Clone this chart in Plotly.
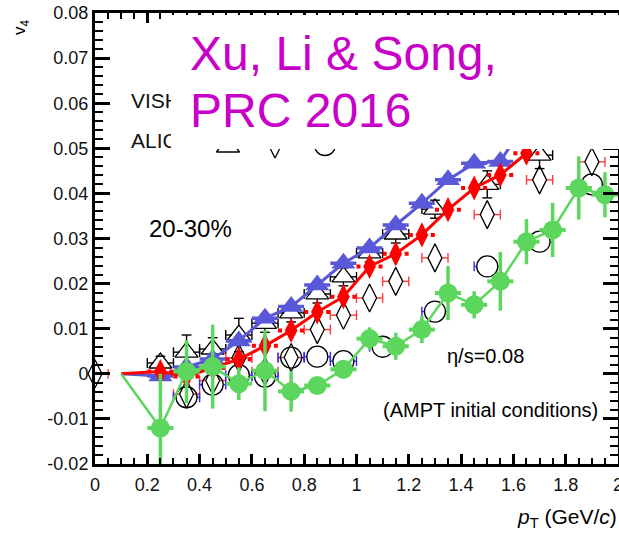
import plotly.graph_objects as go

# ---------------- data ----------------
pt_blue = [0.10, 0.25, 0.35, 0.45, 0.55, 0.65, 0.75, 0.85, 0.95, 1.05, 1.15, 1.25, 1.35, 1.45, 1.55, 1.65]
v4_blue = [0.0, -0.0005, 0.0015, 0.0033, 0.0073, 0.0123, 0.0149, 0.0197, 0.0245, 0.0279, 0.0330,
           0.0378, 0.0430, 0.0467, 0.0471, 0.0560]

pt_red = [0.10, 0.25, 0.35, 0.45, 0.55, 0.65, 0.75, 0.85, 0.95, 1.05, 1.15, 1.25, 1.35, 1.45, 1.55, 1.65]
v4_red = [0.0, 0.0005, -0.0006, 0.0013, 0.0032, 0.0062, 0.0096, 0.0137, 0.0171, 0.0238, 0.0266,
          0.0308, 0.0364, 0.0412, 0.0441, 0.0489]

pt_green = [0.10, 0.25, 0.35, 0.45, 0.55, 0.65, 0.75, 0.85, 0.95, 1.05, 1.15, 1.25, 1.35, 1.45,
            1.55, 1.65, 1.75, 1.85, 1.95]
v4_green = [0.0, -0.0120, 0.0005, 0.0016, -0.0022, 0.0007, -0.0039, -0.0026, 0.0010, 0.0078, 0.0061,
            0.0098, 0.0179, 0.0153, 0.0205, 0.0293, 0.0319, 0.0412, 0.0397]
err_green = [0.0, 0.0120, 0.0070, 0.0093, 0.0036, 0.0090, 0.0045, 0.0015, 0.0020, 0.0025, 0.0030,
             0.0030, 0.0060, 0.0030, 0.0065, 0.0050, 0.0060, 0.0070, 0.0050]

# ALICE data (open markers)
pt_tri = [0.25, 0.35, 0.45, 0.55, 0.65, 0.75, 0.85, 0.95, 1.05, 1.15, 1.3, 1.5, 1.7, 1.9]
v4_tri = [0.0024, 0.0048, 0.0055, 0.0086, 0.0112, 0.0135, 0.0177, 0.0215, 0.0268, 0.0310, 0.0365,
          0.0420, 0.0485, 0.0550]
err_tri = [0.0015, 0.0038, 0.0025, 0.0037, 0.0020, 0.0020, 0.0020, 0.0020, 0.0020, 0.0020, 0.0020,
           0.0030, 0.0030, 0.0030]

pt_dia = [0.0, 0.35, 0.45, 0.55, 0.65, 0.75, 0.85, 0.95, 1.05, 1.15, 1.3, 1.5, 1.7, 1.9]
v4_dia = [0.0, -0.0045, -0.0015, 0.0035, 0.0005, 0.0036, 0.0098, 0.0130, 0.0168, 0.0205, 0.0257,
          0.0353, 0.0430, 0.0470]

pt_cir = [0.35, 0.45, 0.55, 0.65, 0.75, 0.85, 0.95, 1.1, 1.3, 1.5, 1.7, 1.9]
v4_cir = [-0.0052, -0.0024, -0.0003, -0.0006, 0.0036, 0.0038, 0.0028, 0.0060, 0.0138, 0.0238,
          0.0293, 0.0420]

x_tickvals = [0, 0.2, 0.4, 0.6, 0.8, 1.0, 1.2, 1.4, 1.6, 1.8, 2.0]
x_ticktext = ["0", "0.2", "0.4", "0.6", "0.8", "1", "1.2", "1.4", "1.6", "1.8", "2"]
y_tickvals = [-0.02, -0.01, 0.0, 0.01, 0.02, 0.03, 0.04, 0.05, 0.06, 0.07, 0.08]
y_ticktext = ["-0.02", "-0.01", "0", "0.01", "0.02", "0.03", "0.04", "0.05", "0.06", "0.07", "0.08"]

# ---------------- style ----------------
BLUE = "#5858d8"
RED = "#ff0000"
GREEN = "#5cd65c"
MAGENTA = "#c800c8"
ALICE_RED = "#ff3a3a"
ALICE_BLUE = "#2a2aff"
HALF_BIN = 0.05
FONT = "Liberation Sans, Arial, sans-serif"

W, H = 619, 536
L, R, T, B = 95, 1, 13, 72
XR = [0.0, 2.0]
YR = [-0.02, 0.08]
PW, PH = W - L - R, H - T - B
XPX = (XR[1] - XR[0]) / PW   # data units per pixel (x)
YPX = (YR[1] - YR[0]) / PH   # data units per pixel (y)


def px2paper(xp, yp):
    return (xp - L) / PW, (H - B - yp) / PH


def px2data(xp, yp):
    fx, fy = px2paper(xp, yp)
    return XR[0] + fx * (XR[1] - XR[0]), YR[0] + fy * (YR[1] - YR[0])


def hbars(xs, ys, half):
    bx, by = [], []
    for x, y in zip(xs, ys):
        bx += [x - half, x + half, None]
        by += [y, y, None]
    return bx, by


def xbars_gap(xs, ys, half, gap):
    bx, by = [], []
    for x, y in zip(xs, ys):
        bx += [x - half, x - gap, None, x + gap, x + half, None]
        by += [y, y, None, y, y, None]
    return bx, by


def ybars_gap(xs, ys, errs, gap_up, gap_dn):
    bx, by = [], []
    for x, y, e in zip(xs, ys, errs):
        if e > gap_up:
            bx += [x, x, None]
            by += [y + gap_up, y + e, None]
        if e > gap_dn:
            bx += [x, x, None]
            by += [y - gap_dn, y - e, None]
    return bx, by


fig = go.Figure()


def alice(xs, ys, symbol, size, bar_color, gap_px, yerr=None, gap_up_px=0, gap_dn_px=0):
    # horizontal bars drawn outside the marker, with end caps
    bx, by = xbars_gap(xs, ys, HALF_BIN, gap_px * XPX)
    fig.add_trace(go.Scatter(x=bx, y=by, mode="lines", line=dict(color=bar_color, width=1.4),
                             showlegend=False, hoverinfo="skip"))
    cx = [x - HALF_BIN for x in xs] + [x + HALF_BIN for x in xs]
    cy = list(ys) + list(ys)
    fig.add_trace(go.Scatter(x=cx, y=cy, mode="markers",
                             marker=dict(symbol="line-ns", size=7, line=dict(color=bar_color, width=1.4)),
                             showlegend=False, hoverinfo="skip"))
    if yerr is not None:
        vx, vy = ybars_gap(xs, ys, yerr, gap_up_px * YPX, gap_dn_px * YPX)
        fig.add_trace(go.Scatter(x=vx, y=vy, mode="lines", line=dict(color="black", width=1.4),
                                 showlegend=False, hoverinfo="skip"))
        tx = list(xs) + list(xs)
        ty = [y + e for y, e in zip(ys, yerr)] + [y - e for y, e in zip(ys, yerr)]
        fig.add_trace(go.Scatter(x=tx, y=ty, mode="markers",
                                 marker=dict(symbol="line-ew", size=7, line=dict(color="black", width=1.4)),
                                 showlegend=False, hoverinfo="skip"))
    fig.add_trace(go.Scatter(x=xs, y=ys, mode="markers", cliponaxis=False,
                             marker=dict(symbol=symbol, size=size, color="black",
                                         line=dict(width=1.3, color="black")),
                             showlegend=False))


alice(pt_tri, v4_tri, "triangle-up-open", 20, "black", 7, yerr=err_tri, gap_up_px=10, gap_dn_px=5)
alice(pt_dia, v4_dia, "diamond-tall-open", 20, ALICE_RED, 7)
alice(pt_cir, v4_cir, "circle-open", 21, ALICE_BLUE, 10.5)

# partially hidden legend (covered by the white label box)
lx1, ly1 = px2data(228, 147)
lx2, ly2 = px2data(275, 144)
lx3, ly3 = px2data(325, 145)
for lx, ly, sym, sz in [(lx1, ly1, "triangle-up-open", 20), (lx2, ly2, "diamond-tall-open", 20),
                        (lx3, ly3, "circle-open", 21)]:
    fig.add_trace(go.Scatter(x=[lx], y=[ly], mode="markers", cliponaxis=False,
                             marker=dict(symbol=sym, size=sz, color="black", line=dict(width=1.3)),
                             showlegend=False))
tx, ty1 = px2data(131, 103)
_, ty2 = px2data(131, 143)
fig.add_trace(go.Scatter(x=[tx, tx], y=[ty1, ty2], mode="text", text=["VISH", "ALICE"],
                         textposition="middle right", cliponaxis=False,
                         textfont=dict(family=FONT, size=21, color="#111111"), showlegend=False))

# blue model
fig.add_trace(go.Scatter(x=pt_blue, y=v4_blue, mode="lines", line=dict(color=BLUE, width=3),
                         showlegend=False))
bx, by = hbars(pt_blue[1:], v4_blue[1:], HALF_BIN)
fig.add_trace(go.Scatter(x=bx, y=by, mode="lines", line=dict(color=BLUE, width=3.5, dash="9px,8px,9px"),
                         showlegend=False))
fig.add_trace(go.Scatter(x=pt_blue[1:], y=v4_blue[1:], mode="markers",
                         marker=dict(symbol="triangle-up", size=21, color=BLUE), showlegend=False))

# red model
fig.add_trace(go.Scatter(x=pt_red, y=v4_red, mode="lines", line=dict(color=RED, width=3),
                         showlegend=False))
rx, ry = hbars(pt_red[1:], v4_red[1:], HALF_BIN)
fig.add_trace(go.Scatter(x=rx, y=ry, mode="lines", line=dict(color=RED, width=4, dash="4px,18px,4px"),
                         showlegend=False))
fig.add_trace(go.Scatter(x=pt_red[1:], y=v4_red[1:], mode="markers",
                         marker=dict(symbol="diamond-tall", size=18, color=RED), showlegend=False))

# green model
fig.add_trace(go.Scatter(x=pt_green, y=v4_green, mode="lines", line=dict(color=GREEN, width=2.5),
                         showlegend=False))
fig.add_trace(go.Scatter(
    x=pt_green[1:], y=v4_green[1:], mode="markers",
    marker=dict(symbol="circle", size=19, color=GREEN),
    error_x=dict(type="constant", value=HALF_BIN, color=GREEN, thickness=4, width=0),
    error_y=dict(type="data", array=err_green[1:], color=GREEN, thickness=3.5, width=0),
    showlegend=False))

# white box covering the upper part
bx0, by0 = px2paper(171, 149)
_, by1 = px2paper(171, 15)
fig.add_shape(type="rect", xref="paper", yref="paper", x0=bx0, x1=1.2, y0=by0, y1=by1,
              fillcolor="white", line=dict(width=0), layer="above")


def ann(text, xp, yp, size, family=FONT, color="black", xanchor="center", yanchor="middle", angle=0):
    fx, fy = px2paper(xp, yp)
    fig.add_annotation(text=text, x=fx, y=fy, xref="paper", yref="paper", showarrow=False,
                       xanchor=xanchor, yanchor=yanchor, textangle=angle,
                       font=dict(family=family, size=size, color=color))


ann("Xu, Li &amp; Song,", 188, 53, 48, color=MAGENTA, xanchor="left")
ann("PRC 2016", 188, 110, 48, color=MAGENTA, xanchor="left")
ann("20-30%", 190, 228, 24)
ann("η/s=0.08", 485, 356, 20)
ann("(AMPT initial conditions)", 490, 410, 20)
ann("<i>p</i><sub>T</sub> (GeV/<i>c</i>)", 619, 518, 21, xanchor="right")
ann("v<sub>4</sub>", 21, 27, 17, angle=-90)

axis_common = dict(showline=True, linewidth=3, linecolor="black", mirror="ticks",
                   ticks="inside", tickcolor="black", tickwidth=2.5, showgrid=False, zeroline=False,
                   tickfont=dict(family=FONT, size=18, color="#111111"), tickmode="array",
                   ticklabeloverflow="allow")

fig.update_xaxes(range=XR, tickvals=x_tickvals, ticktext=x_ticktext, ticklen=10, ticklabelstandoff=2,
                 minor=dict(tickmode="linear", tick0=0, dtick=0.05, ticklen=6, tickwidth=2,
                            ticks="inside", tickcolor="black", showgrid=False),
                 **axis_common)
fig.update_yaxes(range=YR, tickvals=y_tickvals, ticktext=y_ticktext, ticklen=15,
                 minor=dict(tickmode="linear", tick0=0, dtick=0.002, ticklen=8, tickwidth=2,
                            ticks="inside", tickcolor="black", showgrid=False),
                 **axis_common)

fig.update_layout(width=W, height=H, margin=dict(l=L, r=R, t=T, b=B, autoexpand=False),
                  plot_bgcolor="white", paper_bgcolor="white", showlegend=False)

fig.write_html("out.html", config={"displayModeBar": False},
               post_script="document.body.style.margin='0';document.body.style.overflow='hidden';")
